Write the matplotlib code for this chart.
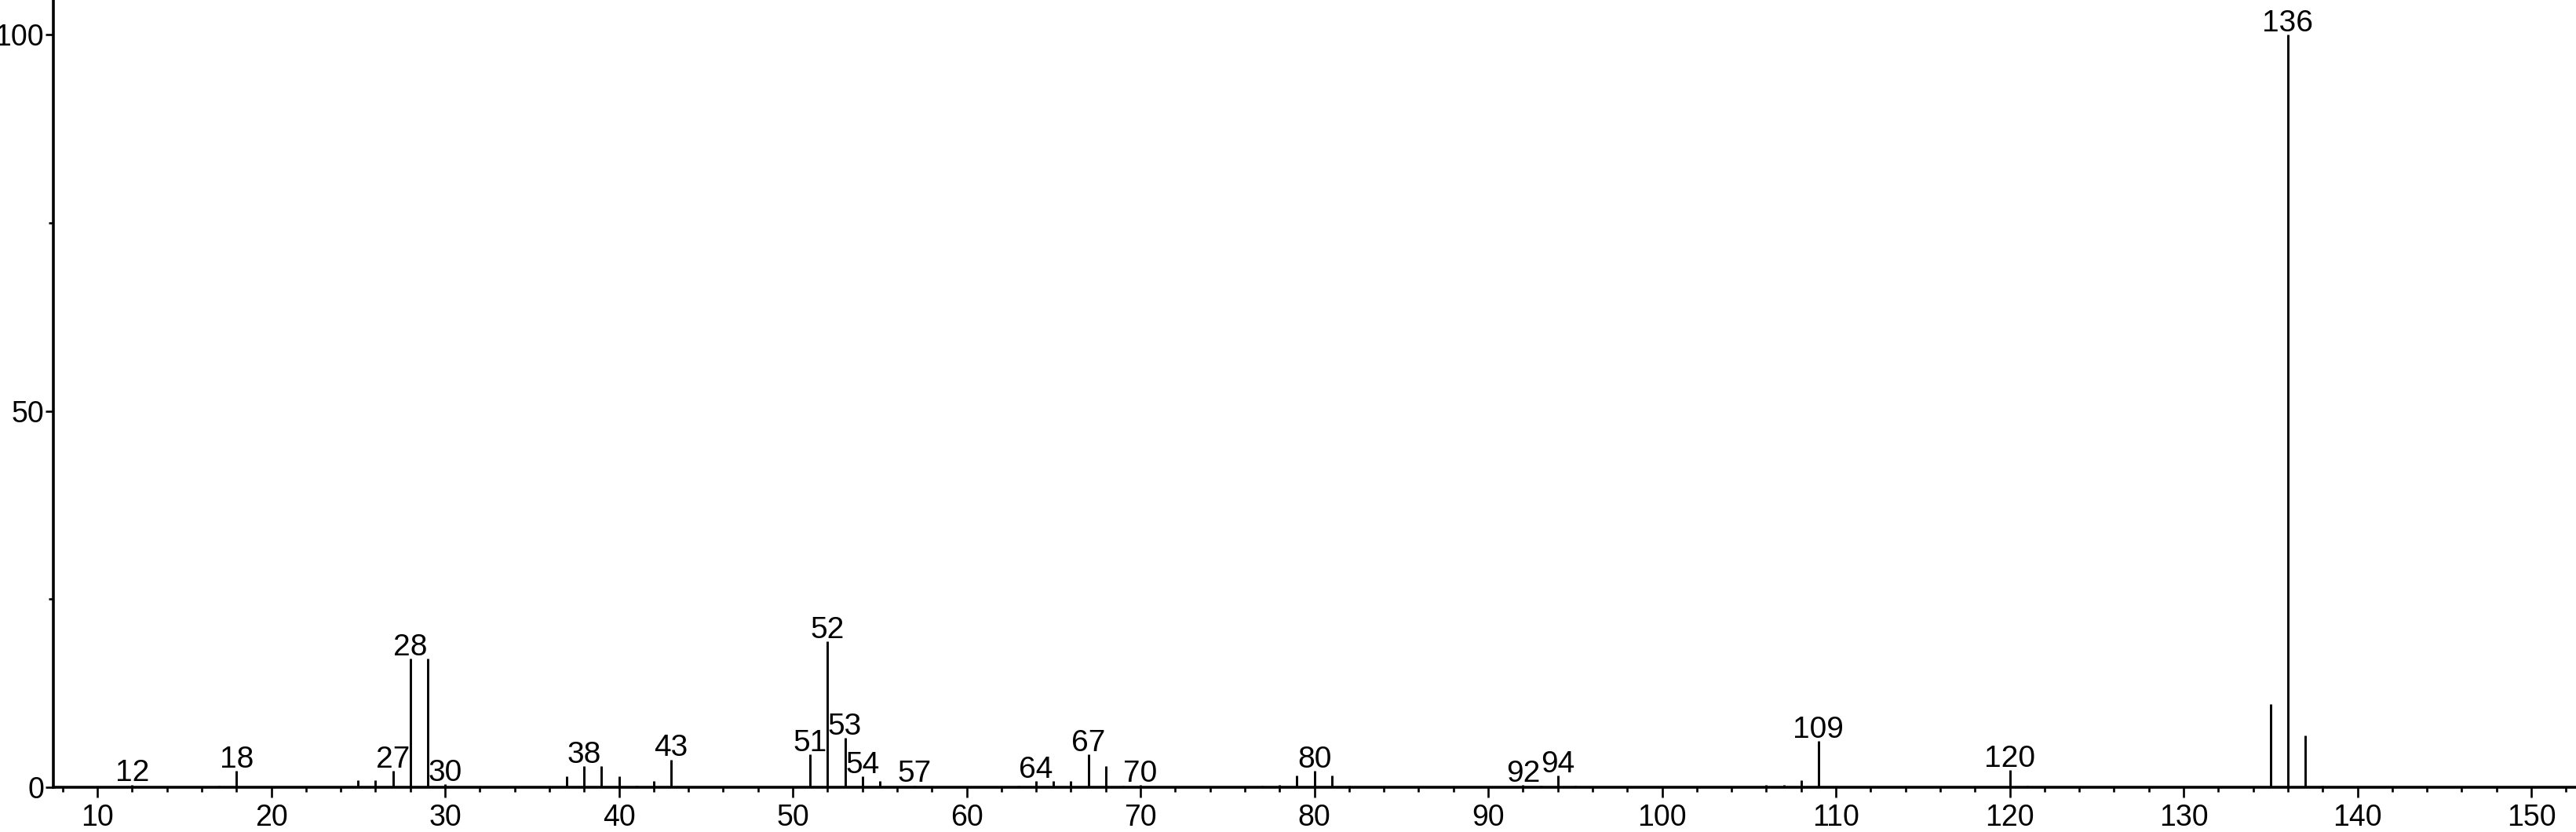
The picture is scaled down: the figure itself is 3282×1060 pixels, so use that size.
import matplotlib
matplotlib.use("Agg")
import matplotlib.pyplot as plt
from matplotlib.ticker import MultipleLocator, FixedLocator

plt.rcParams['font.family'] = ['Liberation Sans Narrow', 'Liberation Sans', 'DejaVu Sans']

# m/z values and relative intensities (%)
mz = [12, 13, 17, 18, 25, 26, 27, 28, 29, 30,
      37, 38, 39, 40, 41, 42, 43,
      51, 52, 53, 54, 55, 57,
      63, 64, 65, 66, 67, 68, 69, 70,
      77, 78, 79, 80, 81, 82,
      92, 93, 94, 95,
      106, 107, 108, 109,
      120, 121,
      135, 136, 137, 138]
intensity = [0.35, 0.15, 0.2, 2.15, 0.95, 0.95, 2.15, 17.1, 17.1, 0.4,
             1.46, 2.78, 2.78, 1.46, 0.2, 0.8, 3.7,
             4.35, 19.4, 6.6, 1.46, 0.8, 0.25,
             0.2, 0.85, 0.85, 0.85, 4.4, 2.8, 0.2, 0.3,
             0.2, 0.3, 1.56, 2.2, 1.56, 0.2,
             0.3, 0.2, 1.55, 0.2,
             0.35, 0.3, 0.97, 6.18,
             2.26, 0.2,
             11.1, 100.0, 6.84, 0.25]

# peaks that carry a m/z label
labelled = [12, 18, 27, 28, 30, 38, 43, 51, 52, 53, 54, 57,
            64, 67, 70, 80, 92, 94, 109, 120, 136]

fig = plt.figure(figsize=(32.82, 10.60), dpi=100)
ax = fig.add_axes([68 / 3282, 57 / 1060, 1 - 68 / 3282, 1003 / 1060])

ax.vlines(mz, 0, intensity, colors='black', linewidth=2.1)

for m, h in zip(mz, intensity):
    if m in labelled:
        ax.annotate(str(m), (m, h), xytext=(0, 3), textcoords='offset points',
                    ha='center', va='baseline', fontsize=28, clip_on=False)

ax.set_xlim(7.47, 152.57)
ax.set_ylim(0, 104.6)

ax.xaxis.set_major_locator(MultipleLocator(10))
ax.xaxis.set_minor_locator(MultipleLocator(2))
ax.yaxis.set_major_locator(FixedLocator([0, 50, 100]))
ax.yaxis.set_minor_locator(FixedLocator([25, 75]))

for side in ['top', 'right']:
    ax.spines[side].set_visible(False)
for side in ['left', 'bottom']:
    ax.spines[side].set_linewidth(2.6)

ax.tick_params(axis='x', which='major', direction='out', length=9, width=1.9,
               labelsize=27, pad=6)
ax.tick_params(axis='x', which='minor', direction='out', length=4.5, width=1.9)
ax.tick_params(axis='y', which='major', direction='out', length=7.5, width=1.9,
               labelsize=27, pad=1)
ax.tick_params(axis='y', which='minor', direction='out', length=4.5, width=1.9)

fig.savefig('out.png', dpi=100)
